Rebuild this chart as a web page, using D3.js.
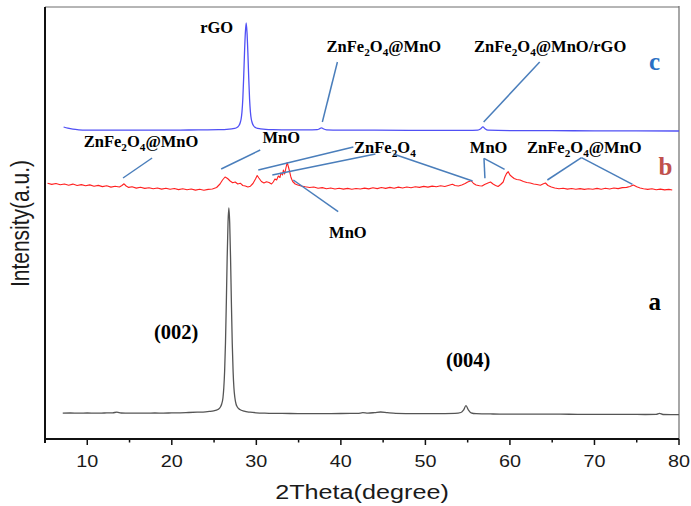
<!DOCTYPE html>
<html>
<head>
<meta charset="utf-8">
<script src="https://cdn.jsdelivr.net/npm/d3@7"></script>
<style>
  html, body { margin: 0; padding: 0; background: #fff; }
  svg { display: block; }
</style>
</head>
<body>
<svg id="chart" width="691" height="506"></svg>
<script>
// XRD patterns: (a) rGO, (b) ZnFe2O4@MnO, (c) ZnFe2O4@MnO/rGO, stacked with offsets.
// Each series is a list of [2theta, intensity (a.u., offset included)].

const patternA = [
  [7.1,24.8],[8,25.0],[9,24.8],[10,25.0],[11,24.9],[12,25.0],[13,25.1],[13.5,25.9],[14,25.0],
  [15,24.8],[16,24.9],[17,24.8],[18,25.0],[19,24.9],[20,25.1],[21,25.2],[22,25.5],[23,25.8],
  [24,26.2],[24.45,26.6],[24.95,27.2],[25.45,28.5],[25.75,31],[25.9,34],[26.05,40],[26.15,50],
  [26.25,67],[26.35,95],[26.45,135],[26.55,180],[26.65,215],[26.75,230],[26.85,215],[26.95,180],
  [27.05,135],[27.15,95],[27.25,67],[27.35,50],[27.45,41],[27.6,34],[27.75,31],[28.05,28.5],
  [28.55,26.8],[29.25,25.8],[30,25.2],[31,24.8],[32,24.6],[34,24.5],[36,24.4],[38,24.4],[40,24.5],
  [42,24.6],[42.6,25.3],[43.2,24.9],[44,25.4],[44.7,26.0],[45.5,25.3],[46.5,24.6],[48,24.4],
  [50,24.3],[52,24.4],[53.5,24.6],[54.2,25.5],[54.5,27.8],[54.8,32.3],[55.1,27.8],[55.4,25.2],
  [56,24.3],[58,24.0],[60,23.9],[62,23.9],[64,23.8],[66,23.8],[68,23.7],[70,23.7],[72,23.6],
  [74,23.6],[76,23.5],[77.3,23.6],[77.7,24.6],[78.1,23.5],[79,23.4],[80,23.4]
];

const patternB = [
  [5.3,254.8],[5.8,253.6],[6.3,254.5],[6.8,253.2],[7.3,254.0],[7.8,252.8],[8.3,253.9],[8.8,252.5],
  [9.3,253.4],[9.8,252.3],[10.3,253.1],[10.8,251.8],[11.3,252.6],[11.8,251.4],[12.3,252.2],
  [12.8,250.9],[13.3,251.7],[13.8,251.0],[14.1,252.5],[14.35,254.2],[14.6,252.0],[14.9,250.6],
  [15.3,251.2],[15.8,249.9],[16.3,250.8],[16.8,249.6],[17.3,250.3],[17.8,249.2],[18.3,250.0],
  [18.8,248.9],[19.3,249.8],[19.8,248.7],[20.3,249.5],[20.8,248.4],[21.3,249.2],[21.8,248.3],
  [22.3,249.0],[22.8,247.9],[23.3,248.8],[23.8,247.8],[24.3,248.6],[24.8,249.0],[25.3,250.5],
  [25.7,254.0],[26.0,258.0],[26.3,261.0],[26.6,259.5],[26.9,257.0],[27.2,255.2],[27.5,256.0],
  [27.8,254.0],[28.1,254.8],[28.4,252.5],[28.7,252.0],[29.0,251.0],[29.3,251.8],[29.6,254.5],
  [29.9,259.0],[30.1,262.5],[30.3,260.0],[30.6,256.5],[30.9,255.0],[31.2,256.2],[31.5,255.5],
  [31.8,254.0],[32.0,256.0],[32.2,259.0],[32.4,258.0],[32.6,262.0],[32.8,260.5],[32.9,265.0],
  [33.1,263.0],[33.2,268.0],[33.35,264.0],[33.5,270.0],[33.65,275.5],[33.8,271.0],[33.95,266.0],
  [34.1,260.5],[34.3,256.5],[34.6,254.0],[34.9,253.0],[35.3,252.0],[35.8,251.2],[36.3,250.5],
  [36.8,251.0],[37.3,249.8],[37.8,250.4],[38.3,249.3],[38.8,250.0],[39.3,249.0],[39.8,249.8],
  [40.3,248.9],[40.8,249.6],[41.3,248.7],[41.8,249.5],[42.3,249.0],[42.8,249.9],[43.3,249.1],
  [43.8,250.2],[44.3,249.4],[44.8,250.5],[45.3,249.6],[45.8,250.6],[46.3,249.8],[46.8,250.9],
  [47.3,250.0],[47.8,251.0],[48.3,250.3],[48.8,251.3],[49.3,250.6],[49.8,251.6],[50.3,250.9],
  [50.8,251.9],[51.3,251.2],[51.8,252.2],[52.3,251.5],[52.8,252.8],[53.2,253.8],[53.5,252.5],
  [53.9,252.0],[54.3,253.0],[54.7,254.5],[55.0,256.0],[55.4,257.3],[55.7,254.5],[56.0,253.0],
  [56.4,252.2],[56.7,252.0],[57.0,253.5],[57.4,255.0],[57.7,256.0],[58.0,254.0],[58.3,252.5],
  [58.6,251.5],[58.9,253.5],[59.2,256.0],[59.4,261.0],[59.6,264.5],[59.8,266.3],[60.0,263.0],
  [60.2,261.5],[60.5,259.5],[60.8,258.5],[61.2,258.0],[61.6,256.5],[62.0,255.5],[62.4,255.0],
  [62.8,254.0],[63.2,253.5],[63.6,252.8],[63.9,254.0],[64.2,255.0],[64.5,252.5],[64.9,251.0],
  [65.3,250.0],[65.8,249.3],[66.3,249.8],[66.8,248.9],[67.3,249.5],[67.8,248.7],[68.3,249.4],
  [68.8,248.6],[69.3,249.3],[69.8,248.8],[70.3,249.6],[70.8,248.8],[71.3,249.7],[71.8,249.0],
  [72.3,250.0],[72.8,249.4],[73.3,250.4],[73.8,250.6],[74.2,251.5],[74.6,253.0],[75.0,251.2],
  [75.4,250.0],[75.8,249.2],[76.3,248.6],[76.8,249.2],[77.3,248.3],[77.8,248.9],[78.3,248.1],
  [78.8,248.6],[79.2,248.0]
];

const patternC = [
  [7.2,311],[7.7,309.8],[8.3,308.8],[9,308.2],[10,307.9],[12,307.8],[14,307.8],[16,307.8],
  [18,307.8],[20,307.9],[22,308],[24,308.1],[25.5,308.3],[26.5,308.6],[27.1,309.2],[27.6,310],
  [27.95,312.5],[28.1,315.5],[28.2,319],[28.3,326],[28.4,339],[28.5,360],[28.6,385],[28.7,405],
  [28.8,415],[28.9,405],[29.0,385],[29.1,360],[29.2,339],[29.3,326],[29.4,319],[29.5,315.5],
  [29.65,312.5],[30,310],[30.5,309.2],[31.1,308.6],[32,308.3],[34,308.1],[36,308.1],[37.2,308.3],
  [37.5,309.3],[37.7,310.2],[37.9,309.3],[38.3,308.2],[40,307.9],[44,307.8],[48,307.7],
  [52,307.6],[55,307.6],[56.2,307.9],[56.55,309.3],[56.8,311.2],[57.05,309.3],[57.4,307.8],
  [60,307.4],[65,307.3],[70,307.2],[75,307.1],[80,307.0]
];

// x-axis ticks
const majorTicks = [10, 20, 30, 40, 50, 60, 70, 80];
const minorTicks = [5, 15, 25, 35, 45, 55, 65, 75];

// Phase labels: text (with _n subscripts) and anchor in (2theta, intensity)
const phaseLabels = [
  { text: "rGO",                theta: 25.31, level: 404.7 },
  { text: "ZnFe_2O_4@MnO",      theta: 45.09, level: 386.3 },
  { text: "ZnFe_2O_4@MnO/rGO",  theta: 64.76, level: 386.3 },
  { text: "ZnFe_2O_4@MnO",      theta: 16.36, level: 291.3 },
  { text: "MnO",                theta: 32.95, level: 294.7 },
  { text: "ZnFe_2O_4",          theta: 45.21, level: 285.3 },
  { text: "MnO",                theta: 40.83, level: 199.7 },
  { text: "MnO",                theta: 57.48, level: 284.7 },
  { text: "ZnFe_2O_4@MnO",      theta: 68.81, level: 284.7 }
];

// Reflection indices of rGO
const hklLabels = [
  { text: "(002)", theta: 20.51, level: 99 },
  { text: "(004)", theta: 55.05, level: 71 }
];

// Curve tags
const curveTags = [
  { text: "a", theta: 77.12, level: 128 },
  { text: "b", theta: 78.39, level: 263 },
  { text: "c", theta: 77.11, level: 368 }
];

// Leader lines from labels to peaks: [theta1, level1, theta2, level2]
const leaders = [
  [39.59, 376, 37.81, 316],
  [63.52, 376, 56.89, 316],
  [17.67, 280, 14.23, 260],
  [30.46, 288, 25.84, 269],
  [41.48, 291, 30.23, 268],
  [44.09, 284, 31.89, 263],
  [46.22, 284, 55.58, 257],
  [34.37, 258, 39.68, 226.3],
  [56.93, 279.7, 57.04, 259.7],
  [56.93, 279.7, 59.37, 268.7],
  [68.46, 280.3, 64.43, 258],
  [68.46, 280.3, 74.50, 253.7]
];

const svg = d3.select("#chart");
const plotLeft = 45, plotRight = 679, plotTop = 7, plotBottom = 438;

const x = d3.scaleLinear().domain([5, 80]).range([plotLeft, plotRight]);
const y = d3.scaleLinear().domain([0, 431]).range([plotBottom, plotTop]);

// frame: thin top/right border
svg.append("line").attr("x1", plotLeft).attr("x2", plotRight).attr("y1", plotTop).attr("y2", plotTop)
  .attr("stroke", "#6d6d6d").attr("stroke-width", 1);
svg.append("line").attr("x1", plotRight).attr("x2", plotRight).attr("y1", plotTop - 1).attr("y2", plotBottom + 1)
  .attr("stroke", "#6d6d6d").attr("stroke-width", 1.2);

// patterns
const line = d3.line().x(d => x(d[0])).y(d => y(d[1]));
const smooth = d3.line().x(d => x(d[0])).y(d => y(d[1])).curve(d3.curveMonotoneX);

svg.append("path").datum(patternA).attr("d", smooth)
  .attr("fill", "none").attr("stroke", "#555").attr("stroke-width", 1.3);
svg.append("path").datum(patternB).attr("d", line)
  .attr("fill", "none").attr("stroke", "#ff2020").attr("stroke-width", 1.1)
  .attr("stroke-linejoin", "round");
svg.append("path").datum(patternC).attr("d", smooth)
  .attr("fill", "none").attr("stroke", "#5050f5").attr("stroke-width", 1.3);

// axes
const axisY = plotBottom + 1;
const xAxis = svg.append("g").attr("transform", `translate(0,${axisY})`);
xAxis.append("line").attr("x1", plotLeft - 1).attr("x2", plotRight).attr("y1", 0).attr("y2", 0)
  .attr("stroke", "#111").attr("stroke-width", 2);
xAxis.selectAll("line.major").data(majorTicks).join("line").attr("class", "major")
  .attr("x1", d => x(d)).attr("x2", d => x(d)).attr("y1", 0).attr("y2", 6)
  .attr("stroke", "#111").attr("stroke-width", 1.5);
xAxis.selectAll("line.minor").data(minorTicks).join("line").attr("class", "minor")
  .attr("x1", d => x(d)).attr("x2", d => x(d)).attr("y1", 0).attr("y2", 3.5)
  .attr("stroke", "#111").attr("stroke-width", 1.5);
xAxis.selectAll("text.tick").data(majorTicks).join("text").attr("class", "tick")
  .attr("transform", d => `translate(${x(d)},28) scale(1.2,1)`)
  .attr("text-anchor", "middle")
  .attr("font-family", "Liberation Sans, Arial, sans-serif")
  .attr("font-size", 16.5).attr("fill", "#1a1a1a")
  .text(d => d);

svg.append("line").attr("x1", plotLeft).attr("x2", plotLeft).attr("y1", plotTop).attr("y2", axisY + 4)
  .attr("stroke", "#111").attr("stroke-width", 2);

svg.append("text")
  .attr("transform", `translate(${(plotLeft + plotRight) / 2},499) scale(1.2,1)`)
  .attr("text-anchor", "middle")
  .attr("font-family", "Liberation Sans, Arial, sans-serif")
  .attr("font-size", 21).attr("fill", "#1a1a1a")
  .text("2Theta(degree)");

svg.append("text")
  .attr("transform", "translate(28.5,223.5) scale(1.2,1) rotate(-90)")
  .attr("text-anchor", "middle")
  .attr("font-family", "Liberation Sans, Arial, sans-serif")
  .attr("font-size", 21).attr("fill", "#1a1a1a")
  .text("Intensity(a.u.)");

// leader lines
svg.append("g").selectAll("line").data(leaders).join("line")
  .attr("x1", d => x(d[0])).attr("y1", d => y(d[1]))
  .attr("x2", d => x(d[2])).attr("y2", d => y(d[3]))
  .attr("stroke", "#4a7ebb").attr("stroke-width", 1.5);

// text with chemical subscripts written as _n
function richText(sel, str, size) {
  const parts = str.split(/(_\d)/).filter(s => s.length);
  let shifted = false;
  const drop = size * 0.24;
  parts.forEach(p => {
    if (p.startsWith("_")) {
      sel.append("tspan").attr("font-size", size * 0.68).attr("dy", shifted ? 0 : drop).text(p.slice(1));
      shifted = true;
    } else {
      sel.append("tspan").attr("dy", shifted ? -drop : 0).text(p);
      shifted = false;
    }
  });
}

const serif = "Liberation Serif, Times New Roman, serif";

svg.append("g").selectAll("text").data(phaseLabels).join("text")
  .attr("x", d => x(d.theta)).attr("y", d => y(d.level))
  .attr("text-anchor", "middle")
  .attr("font-family", serif).attr("font-weight", "bold")
  .attr("font-size", 16.5).attr("fill", "#000")
  .each(function (d) { richText(d3.select(this), d.text, 16.5); });

svg.append("g").selectAll("text").data(hklLabels).join("text")
  .attr("x", d => x(d.theta)).attr("y", d => y(d.level))
  .attr("text-anchor", "middle")
  .attr("font-family", serif).attr("font-weight", "bold")
  .attr("font-size", 20.5).attr("fill", "#000")
  .text(d => d.text);

const tagColors = { a: "#000", b: "#c0504d", c: "#2a6fc4" };
svg.append("g").selectAll("text").data(curveTags).join("text")
  .attr("x", d => x(d.theta)).attr("y", d => y(d.level))
  .attr("text-anchor", "middle")
  .attr("font-family", serif).attr("font-weight", "bold")
  .attr("font-size", 25).attr("fill", d => tagColors[d.text])
  .text(d => d.text);
</script>
</body>
</html>
